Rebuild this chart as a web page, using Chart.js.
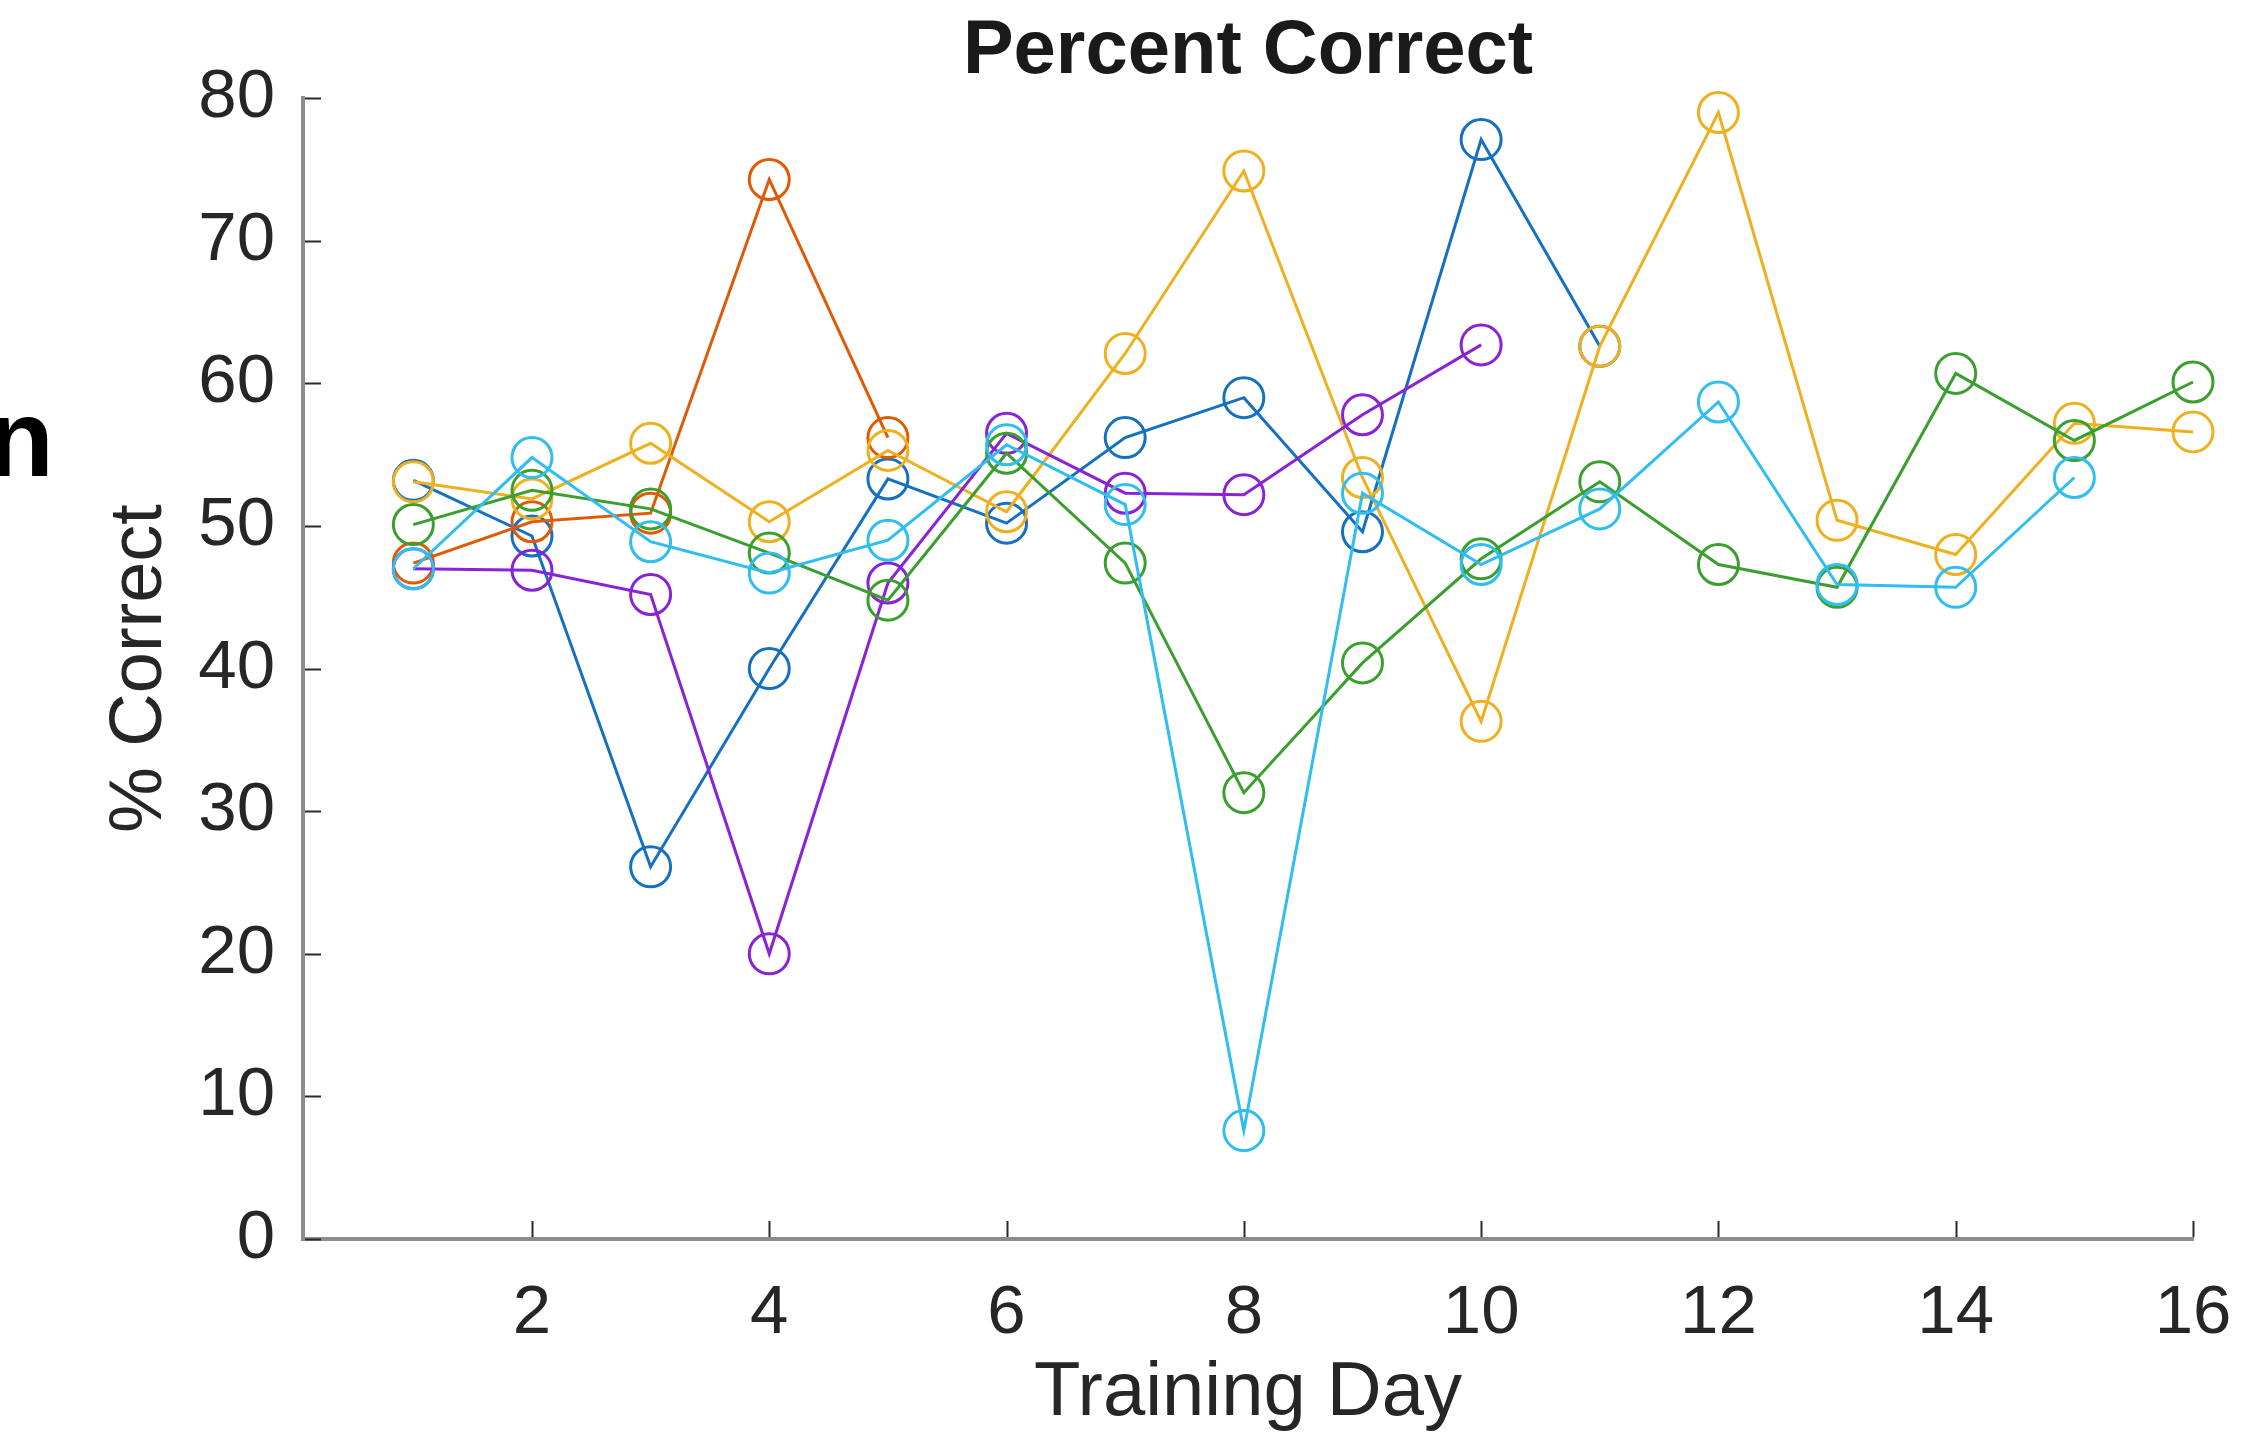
<!DOCTYPE html>
<html>
<head>
<meta charset="utf-8">
<script src="https://cdn.jsdelivr.net/npm/chart.js@4.4.1/dist/chart.umd.min.js"></script>
<style>
  html, body { margin: 0; padding: 0; background: #fff; }
  #wrap { width: 2260px; height: 1453px; }
</style>
</head>
<body>
<div id="wrap"><canvas id="chart" width="2260" height="1453"></canvas></div>
<script>
// Datos (día de entrenamiento -> % correcto)
const days = [1, 2, 3, 4, 5, 6, 7, 8, 9, 10, 11, 12, 13, 14, 15, 16];
const xTicks = [2, 4, 6, 8, 10, 12, 14, 16];
const yTicks = [0, 10, 20, 30, 40, 50, 60, 70, 80];

const serieAzul     = [53.2, 49.3, 26.1, 40.0, 53.3, 50.2, 56.2, 59.0, 49.6, 77.1, 62.6];
const serieNaranja  = [47.4, 50.3, 50.9, 74.3, 56.2];
const serieAmarilla = [53.1, 51.9, 55.8, 50.3, 55.3, 51.0, 62.1, 74.9, 53.4, 36.3, 62.6, 79.0, 50.4, 48.0, 57.2, 56.6];
const serieMorada   = [47.0, 46.9, 45.2, 20.0, 46.0, 56.5, 52.3, 52.2, 57.8, 62.7];
const serieVerde    = [50.1, 52.5, 51.2, 48.1, 44.8, 55.1, 47.4, 31.3, 40.4, 47.7, 53.1, 47.3, 45.7, 60.7, 56.0, 60.1];
const serieCian     = [47.0, 54.8, 48.9, 46.7, 49.0, 55.7, 51.5, 7.6, 52.3, 47.3, 51.2, 58.7, 45.9, 45.7, 53.4];

const series = [
  { valores: serieAzul,     color: '#1570c0' },
  { valores: serieNaranja,  color: '#e05a06' },
  { valores: serieAmarilla, color: '#efb020' },
  { valores: serieMorada,   color: '#8a22d6' },
  { valores: serieVerde,    color: '#3a9f2e' },
  { valores: serieCian,     color: '#30bdf0' },
];

const FONT = '"Liberation Sans", Arial, Helvetica, sans-serif';
const TEXT = '#262626';

/**
 * Marcas de eje hacia dentro y la letra recortada del panel vecino.
 */
const marcasEje = {
  id: 'marcasEje',
  afterDraw(chart) {
    const { ctx, chartArea, scales } = chart;
    ctx.save();
    ctx.strokeStyle = '#2b2b2b';
    ctx.lineWidth = 2;
    ctx.beginPath();
    for (const t of scales.y.ticks) {
      const py = Math.round(scales.y.getPixelForValue(t.value)) + 0.5;
      ctx.moveTo(chartArea.left + 2, py);
      ctx.lineTo(chartArea.left + 18, py);
    }
    for (const t of scales.x.ticks) {
      const px = Math.round(scales.x.getPixelForValue(t.value)) + 0.5;
      ctx.moveTo(px, chartArea.bottom - 2);
      ctx.lineTo(px, chartArea.bottom - 18);
    }
    ctx.stroke();

    ctx.fillStyle = '#000';
    ctx.font = 'bold 110px ' + FONT;
    ctx.textAlign = 'right';
    ctx.textBaseline = 'alphabetic';
    ctx.fillText('n', 54, 476);
    ctx.restore();
  }
};

const datasets = series.map((s, i) => ({
  data: s.valores.map((v, k) => ({ x: days[k], y: v })),
  borderColor: s.color,
  backgroundColor: 'rgba(0,0,0,0)',
  borderWidth: 3,
  pointStyle: 'circle',
  pointRadius: 20,
  pointBorderWidth: 3,
  pointBorderColor: s.color,
  pointBackgroundColor: 'rgba(0,0,0,0)',
  tension: 0,
  clip: false,
  order: series.length - i,
}));

new Chart(document.getElementById('chart'), {
  type: 'line',
  data: { datasets },
  plugins: [marcasEje],
  options: {
    responsive: false,
    animation: false,
    devicePixelRatio: 1,
    layout: { padding: { left: 0, right: 67, top: 0, bottom: 0 } },
    plugins: {
      legend: { display: false },
      tooltip: { enabled: false },
      title: {
        display: true,
        text: 'Percent Correct',
        fullSize: false,
        color: '#1a1a1a',
        font: { family: FONT, size: 76, weight: 'bold', lineHeight: 1.2 },
        padding: { top: 6, bottom: 1 },
      },
    },
    scales: {
      x: {
        type: 'linear',
        min: 0.07,
        max: 16,
        afterBuildTicks: (s) => { s.ticks = xTicks.map(v => ({ value: v })); },
        afterFit: (s) => { s.height = 214; s.paddingLeft = 0; s.paddingRight = 0; },
        grid: { display: false, drawTicks: false },
        border: { display: true, color: '#8c8c8c', width: 4 },
        ticks: {
          color: TEXT,
          padding: 34,
          maxRotation: 0,
          autoSkip: false,
          font: { family: FONT, size: 69 },
        },
        title: {
          display: true,
          text: 'Training Day',
          color: TEXT,
          font: { family: FONT, size: 76, lineHeight: 1.2 },
          padding: { top: 0, bottom: 13 },
        },
      },
      y: {
        type: 'linear',
        min: 0,
        max: 80,
        afterBuildTicks: (s) => { s.ticks = yTicks.map(v => ({ value: v })); },
        afterFit: (s) => { s.width = 303; },
        grid: { display: false, drawTicks: false },
        border: { display: true, color: '#8c8c8c', width: 4 },
        ticks: {
          color: TEXT,
          padding: 28,
          autoSkip: false,
          font: { family: FONT, size: 69 },
        },
        title: {
          display: true,
          text: '% Correct',
          color: TEXT,
          font: { family: FONT, size: 74, lineHeight: 1.2 },
          padding: { top: 96, bottom: 0 },
        },
      },
    },
  },
});
</script>
</body>
</html>
